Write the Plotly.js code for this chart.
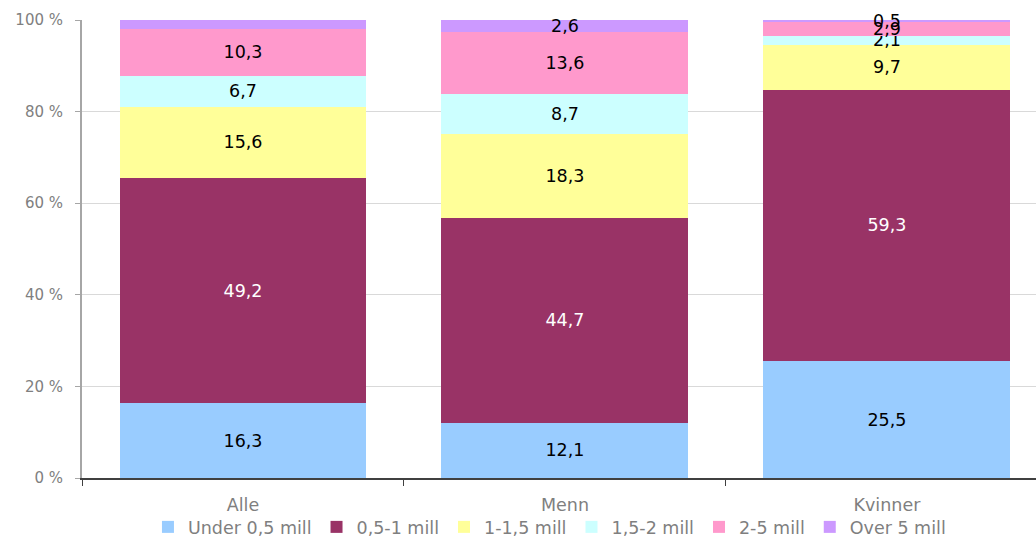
<!DOCTYPE html>
<html>
<head>
<meta charset="utf-8">
<script src="https://cdn.plot.ly/plotly-3.0.1.min.js"></script>
<style>html,body{margin:0;padding:0;background:#fff;}#chart{width:1036px;height:539px;}</style>
</head>
<body>
<div id="chart"></div>
<script>
var categories = ['Alle', 'Menn', 'Kvinner'];
var seriesNames = ['Under 0,5 mill', '0,5-1 mill', '1-1,5 mill', '1,5-2 mill', '2-5 mill', 'Over 5 mill'];
var under05 = [16.3, 12.1, 25.5];
var from05to1 = [49.2, 44.7, 59.3];
var from1to15 = [15.6, 18.3, 9.7];
var from15to2 = [6.7, 8.7, 2.1];
var from2to5 = [10.3, 13.6, 2.9];
var over5 = [2.0, 2.6, 0.5];
var yTickVals = [0, 20, 40, 60, 80, 100];
var yTickText = ['0 %', '20 %', '40 %', '60 %', '80 %', '100 %'];

var seriesValues = [under05, from05to1, from1to15, from15to2, from2to5, over5];
var colors = ['#99CCFF', '#993366', '#FFFF99', '#CCFFFF', '#FF99CC', '#CC99FF'];
var textColors = ['#000', '#fff', '#000', '#000', '#000', '#000'];
var font = 'DejaVu Sans, Verdana, sans-serif';

var traces = seriesValues.map(function (vals, i) {
  return {
    type: 'bar',
    name: seriesNames[i],
    x: categories,
    y: vals,
    marker: {color: colors[i]},
    text: vals.map(function (v) { return v.toFixed(1).replace('.', ','); }),
    textposition: 'inside',
    insidetextanchor: 'middle',
    textangle: 0,
    constraintext: 'none',
    cliponaxis: false,
    textfont: {family: font, size: 17.5, color: textColors[i]},
    hoverinfo: 'skip'
  };
});

var layout = {
  width: 1036,
  height: 539,
  margin: {l: 82, r: 0, t: 20, b: 61, autoexpand: false},
  paper_bgcolor: '#fff',
  plot_bgcolor: '#fff',
  barmode: 'stack',
  bargap: 0.233,
  uniformtext: {mode: 'show', minsize: 17.5},
  showlegend: true,
  legend: {
    orientation: 'h', x: 0.49, xanchor: 'center', y: -0.107, yanchor: 'middle',
    bgcolor: 'rgba(0,0,0,0)',
    font: {family: font, size: 17.5, color: '#7F7F7F'},
    traceorder: 'normal', itemwidth: 30, tracegroupgap: 0
  },
  xaxis: {
    type: 'category',
    range: [-0.5, 2.463],
    showline: true, linecolor: '#404040', linewidth: 2,
    ticks: 'outside', tickson: 'boundaries', ticklen: 6, tickcolor: '#404040',
    tickfont: {family: font, size: 17.5, color: '#7F7F7F'},
    ticklabelstandoff: 10,
    showgrid: false, zeroline: false, fixedrange: true
  },
  yaxis: {
    range: [0, 100],
    tickvals: yTickVals, ticktext: yTickText,
    showline: true, linecolor: '#A6A6A6', linewidth: 2,
    ticks: 'outside', ticklen: 5, tickcolor: '#A6A6A6',
    tickfont: {family: font, size: 15, color: '#808080'},
    showgrid: true, gridcolor: '#D9D9D9', gridwidth: 1,
    zeroline: false, fixedrange: true, ticklabelstandoff: 9
  }
};

Plotly.newPlot('chart', traces, layout, {displayModeBar: false, staticPlot: true});
</script>
</body>
</html>
